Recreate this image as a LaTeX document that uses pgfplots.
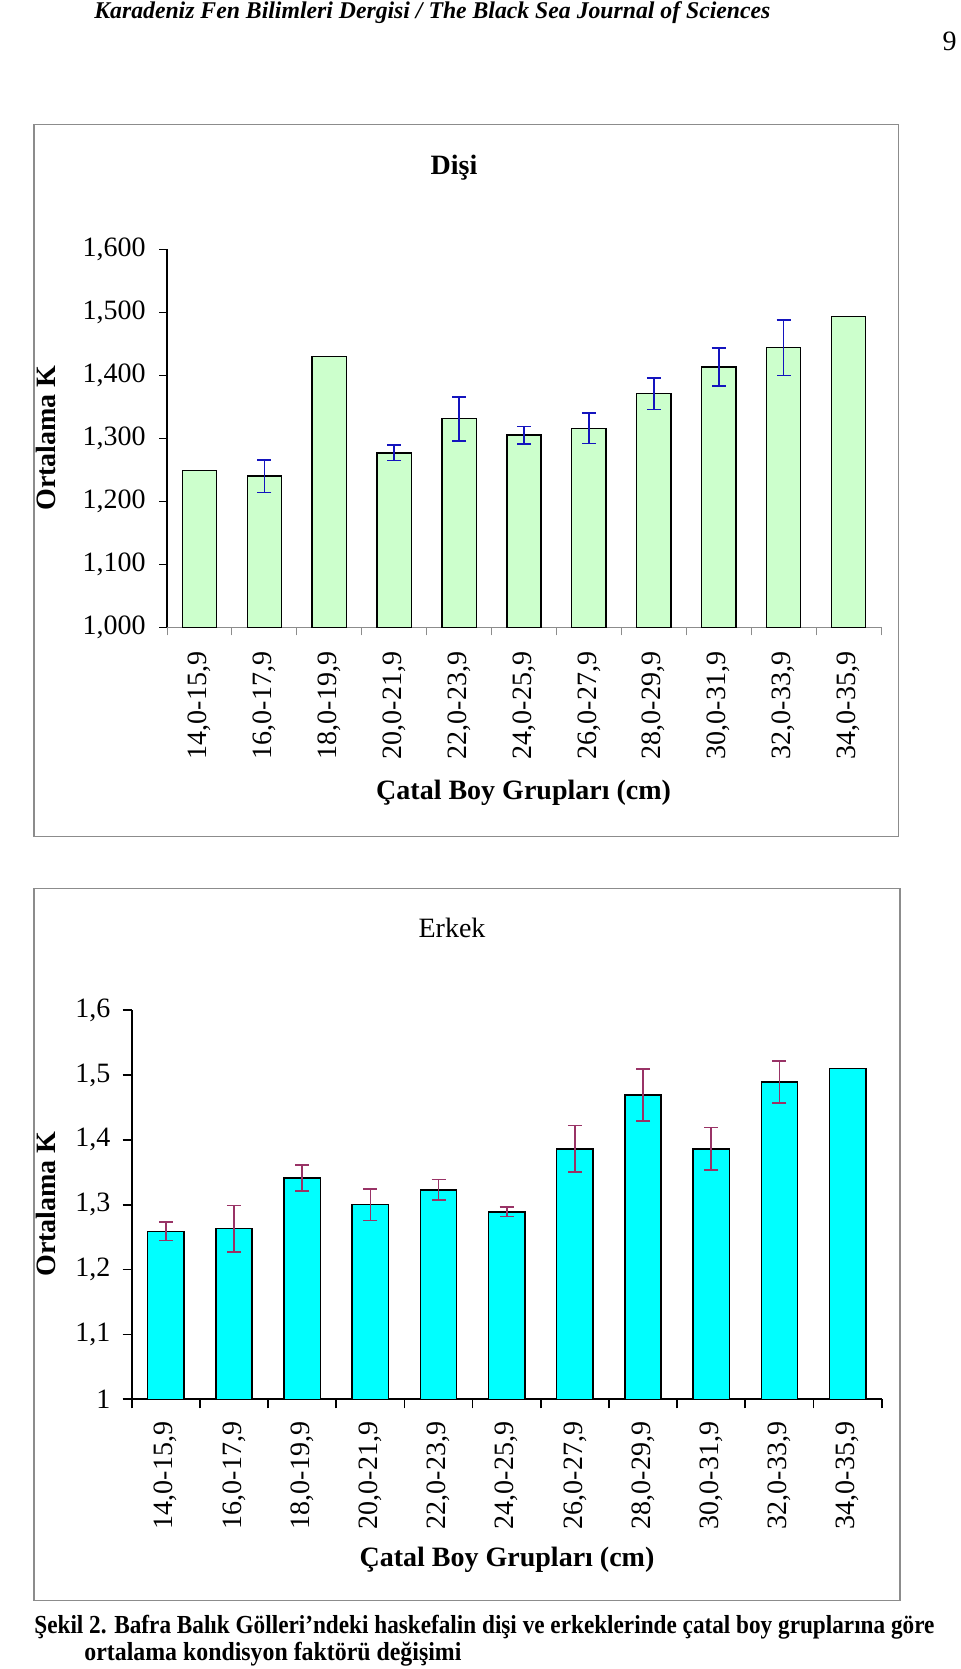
\documentclass[border=0pt]{standalone}
\usepackage{pgfplots}
\pgfplotsset{compat=1.18}
\usepackage{fontspec}
\setmainfont{Liberation Serif}
\definecolor{barGreen}{HTML}{CCFFCC}
\definecolor{errBlue}{HTML}{1414BE}
\definecolor{barCyan}{HTML}{00FFFF}
\definecolor{errPlum}{HTML}{993366}
\definecolor{frameGray}{HTML}{8C8C8C}

\pgfplotstableread{
x y
0 1.249
1 1.240
2 1.430
3 1.277
4 1.331
5 1.305
6 1.316
7 1.371
8 1.413
9 1.444
10 1.493
}\disiBars
\pgfplotstableread{
x y e
1 1.240 0.026
3 1.277 0.0125
4 1.331 0.035
5 1.305 0.014
6 1.316 0.024
7 1.371 0.025
8 1.413 0.030
9 1.444 0.044
}\disiErr
\pgfplotstableread{
x y
0 1.259
1 1.263
2 1.341
3 1.300
4 1.323
5 1.289
6 1.386
7 1.469
8 1.386
9 1.489
10 1.510
}\erkekBars
\pgfplotstableread{
x y e
0 1.259 0.014
1 1.263 0.036
2 1.341 0.020
3 1.300 0.0245
4 1.323 0.016
5 1.289 0.007
6 1.386 0.036
7 1.469 0.040
8 1.386 0.033
9 1.489 0.032
}\erkekErr

\pgfplotsset{
  catlabels/.style={
    extra x ticks={0,1,...,10},
    extra x tick labels={{14,0-15,9},{16,0-17,9},{18,0-19,9},{20,0-21,9},{22,0-23,9},{24,0-25,9},{26,0-27,9},{28,0-29,9},{30,0-31,9},{32,0-33,9},{34,0-35,9}},
    extra x tick style={major tick length=0pt},
  },
}

\begin{document}
\fontsize{14pt}{16.5pt}\selectfont
\begin{tikzpicture}
\path[use as bounding box] (0,0) rectangle (480pt,-834.5pt);

% header
\node[anchor=base west, inner sep=0pt] at (47pt,-9.5pt) {\resizebox{338pt}{\height}{\fontsize{12pt}{14pt}\selectfont\bfseries\itshape Karadeniz Fen Bilimleri Dergisi / The Black Sea Journal of Sciences}};
\node[anchor=base east, inner sep=0pt] at (478.5pt,-25.5pt) {\fontsize{14pt}{16pt}\selectfont 9};

% frames
\draw[frameGray, line width=0.6pt] (17pt,-62.15pt) rectangle (449.15pt,-418.35pt);
\draw[frameGray, line width=0.6pt] (17pt,-444.15pt) rectangle (450pt,-800.35pt);

% ---------- Disi ----------
\begin{axis}[
  at={(83.5pt,-313.65pt)}, anchor=south west,
  scale only axis, width=357pt, height=189pt,
  xmin=-0.5, xmax=10.5, ymin=1, ymax=1.6,
  axis x line*=bottom, axis y line*=left,
  x axis line style={frameGray, line width=0.5pt},
  y axis line style={black, line width=0.7pt},
  tick align=outside, major tick length=4pt,
  xtick={-0.5,0.5,...,10.5}, xticklabels={},
  x tick style={frameGray, line width=0.5pt},
  catlabels,
  xticklabel style={yshift=-12pt, rotate=90, anchor=east, inner sep=0pt, font=\fontsize{14pt}{16.5pt}\selectfont},
  ytick={1,1.1,1.2,1.3,1.4,1.5,1.6},
  y tick style={black, line width=0.7pt},
  yticklabel style={inner sep=0pt, xshift=-6.5pt, font=\fontsize{14pt}{16.5pt}\selectfont,
    /pgf/number format/.cd, fixed, fixed zerofill, precision=3, use comma, assume math mode=true},
]
\addplot[ybar, bar width=17.15pt, fill=barGreen, draw=black, line width=0.7pt] table[x=x, y=y] {\disiBars};
\addplot[draw=none, mark=none, error bars/.cd, y dir=both, y explicit,
  error bar style={errBlue, line width=0.8pt},
  error mark options={errBlue, rotate=90, mark size=3.5pt, line width=0.8pt}]
  table[x=x, y=y, y error=e] {\disiErr};
\end{axis}
\node[anchor=base, font=\bfseries] at (227pt,-87.5pt) {Dişi};
\node[anchor=base, font=\bfseries] at (261.8pt,-399.5pt) {Çatal Boy Grupları (cm)};
\node[anchor=base, rotate=90, font=\bfseries] at (27.5pt,-219pt) {Ortalama K};

% ---------- Erkek ----------
\begin{axis}[
  at={(65.85pt,-699.65pt)}, anchor=south west,
  scale only axis, width=375pt, height=194.65pt,
  xmin=-0.5, xmax=10.5, ymin=1, ymax=1.6,
  axis x line*=bottom, axis y line*=left,
  axis line style={black, line width=0.85pt},
  tick align=outside, major tick length=4.5pt,
  xtick={-0.5,0.5,...,10.5}, xticklabels={},
  tick style={black, line width=0.85pt},
  catlabels,
  xticklabel style={yshift=-11pt, rotate=90, anchor=east, inner sep=0pt, font=\fontsize{14pt}{16.5pt}\selectfont},
  ytick={1,1.1,1.2,1.3,1.4,1.5,1.6},
  yticklabel style={inner sep=0pt, xshift=-6pt, font=\fontsize{14pt}{16.5pt}\selectfont,
    /pgf/number format/.cd, fixed, precision=1, use comma, assume math mode=true},
]
\addplot[ybar, bar width=18.15pt, fill=barCyan, draw=black, line width=0.75pt] table[x=x, y=y] {\erkekBars};
\addplot[draw=none, mark=none, error bars/.cd, y dir=both, y explicit,
  error bar style={errPlum, line width=0.8pt},
  error mark options={errPlum, rotate=90, mark size=3.5pt, line width=0.8pt}]
  table[x=x, y=y, y error=e] {\erkekErr};
\end{axis}
\node[anchor=base] at (226pt,-468.8pt) {Erkek};
\node[anchor=base, font=\bfseries] at (253.5pt,-783.3pt) {Çatal Boy Grupları (cm)};
\node[anchor=base, rotate=90, font=\bfseries] at (27.5pt,-602pt) {Ortalama K};

% caption
\node[anchor=base west, inner sep=0pt] at (17pt,-816.5pt) {\resizebox{450pt}{\height}{\fontsize{13pt}{15pt}\selectfont\bfseries Şekil 2. Bafra Balık Gölleri’ndeki haskefalin dişi ve erkeklerinde çatal boy gruplarına göre}};
\node[anchor=base west, inner sep=0pt] at (42pt,-830pt) {\resizebox{188.5pt}{\height}{\fontsize{13pt}{15pt}\selectfont\bfseries ortalama kondisyon faktörü değişimi}};
\end{tikzpicture}
\end{document}
